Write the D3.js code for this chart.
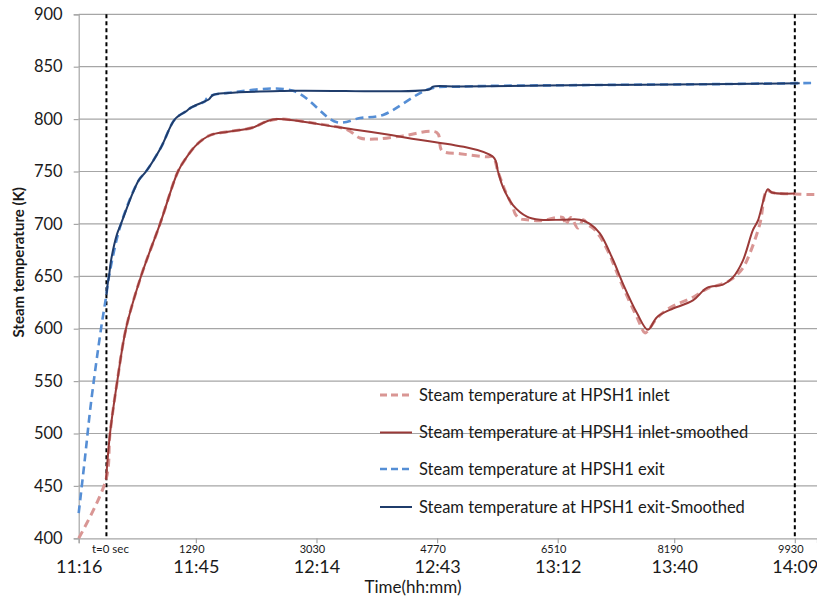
<!DOCTYPE html>
<html>
<head>
<meta charset="utf-8">
<script src="https://cdn.jsdelivr.net/npm/d3@7/dist/d3.min.js"></script>
<style>
    body { margin: 0; background: #fff; }
    svg { display: block; font-family: Lato, "Open Sans", sans-serif; }
</style>
</head>
<body>
<div id="chart"></div>
<script>
"use strict";

// time (s from t=0) and steam temperature (K)

// HPSH1 inlet, raw (dashed)
var inletRaw = [
    [-400, 400], [-6, 456], [52, 500], [152, 548], [282, 600], [499, 650], [773, 700],
    [1032, 750], [1150, 763], [1278, 774], [1400, 781], [1509, 785], [1754, 788],
    [2115, 792], [2317, 798], [2505, 800], [3000, 796], [3470, 790], [3658, 782],
    [3903, 781], [4278, 784], [4768, 787], [4840, 770], [5100, 767], [5489, 764],
    [5576, 764], [5648, 750], [5720, 737], [5749, 732], [5821, 722], [5864, 716],
    [5893, 710], [5965, 705], [6066, 704], [6253, 703], [6585, 706], [6620, 699],
    [6700, 706], [6800, 696], [6880, 704], [6950, 699], [7018, 696], [7118, 688],
    [7263, 670], [7306, 663], [7450, 640], [7652, 611], [7768, 596], [7811, 598],
    [7941, 610], [8128, 620], [8460, 630], [8662, 638], [8893, 643], [9037, 648],
    [9181, 658], [9282, 672], [9426, 700], [9527, 732], [9599, 730], [10219, 728]
];

// HPSH1 inlet, smoothed
var inletSmooth = [
    [-6, 456], [52, 500], [152, 548], [282, 600], [499, 650], [773, 700], [1032, 750],
    [1150, 763], [1278, 774], [1400, 781], [1509, 785], [1754, 788], [2115, 792],
    [2317, 798], [2461, 800], [3369, 792], [4264, 783], [5576, 764], [5648, 750],
    [5720, 735], [5864, 718], [6066, 707], [6253, 704], [6585, 704], [6830, 704],
    [6974, 700], [7118, 691], [7306, 666], [7450, 643], [7652, 615], [7811, 599],
    [7941, 611], [8128, 618], [8460, 627], [8662, 639], [8893, 642], [9037, 649],
    [9181, 665], [9325, 694], [9397, 703], [9541, 733], [9599, 730], [9931, 729]
];

// HPSH1 exit, raw (dashed)
var exitRaw = [
    [-400, 424], [-309, 477], [-223, 529], [-78, 600], [-6, 630], [37, 650], [210, 700],
    [470, 742], [571, 750], [787, 773], [989, 800], [1162, 808], [1220, 811], [1422, 817],
    [1451, 820], [1538, 823], [1754, 825], [2691, 827], [3326, 797], [3658, 801],
    [3990, 804], [4667, 829], [5100, 831], [7000, 832.5], [9000, 833.5], [10219, 834.5]
];

// HPSH1 exit, smoothed
var exitSmooth = [
    [0, 632], [23, 645], [37, 650], [66, 665], [152, 690], [210, 700], [383, 730],
    [470, 742], [571, 750], [787, 773], [989, 800], [1162, 808], [1220, 811], [1422, 817],
    [1480, 819], [1538, 823], [1754, 825], [2691, 827], [4667, 828.5], [4710, 831],
    [5100, 831], [7000, 832.5], [9000, 833.5], [10000, 834.3]
];

// axis ticks
var yTicks = [400, 450, 500, 550, 600, 650, 700, 750, 800, 850, 900];
var xTicks = [-400, 1290, 3030, 4770, 6510, 8190, 9930];
var clockLabels = ["11:16", "11:45", "12:14", "12:43", "13:12", "13:40", "14:09"];
var secondLabels = ["", "1290", "3030", "4770", "6510", "8190", "9930"];
// vertical markers: start and end of the analysed window
var markers = [0, 9930];

var seriesNames = [
    "Steam temperature at HPSH1 inlet",
    "Steam temperature at HPSH1 inlet-smoothed",
    "Steam temperature at HPSH1 exit",
    "Steam temperature at HPSH1 exit-Smoothed"
];

var W = 817, H = 601;
var plot = { left: 78.7, top: 14.3, right: 817, bottom: 538.3 };

var svg = d3.select("#chart").append("svg")
    .attr("width", W)
    .attr("height", H);

var x = d3.scaleLinear().domain([-400, 10250]).range([plot.left, plot.right]);
var y = d3.scaleLinear().domain([400, 900]).range([plot.bottom, plot.top]);

// horizontal gridlines
svg.append("g")
    .selectAll("line")
    .data(yTicks.slice(1))
    .enter()
    .append("line")
    .attr("x1", plot.left)
    .attr("x2", plot.right)
    .attr("y1", function (d) { return y(d); })
    .attr("y2", function (d) { return y(d); })
    .attr("stroke", "#a6a6a6")
    .attr("stroke-width", 1.2);

// y axis
var yAxis = svg.append("g")
    .attr("transform", "translate(" + plot.left + ",0)")
    .call(d3.axisLeft(y).tickValues(yTicks).tickSize(5).tickPadding(11));
yAxis.select(".domain").attr("stroke", "#a6a6a6").attr("stroke-width", 1.2);
yAxis.selectAll(".tick line").attr("stroke", "#a6a6a6").attr("stroke-width", 1.2);
yAxis.selectAll(".tick text")
    .attr("font-family", "Lato, sans-serif")
    .attr("font-size", 16.5)
    .attr("fill", "#1a1a1a");

// x axis, clock time
var xAxis = svg.append("g")
    .attr("transform", "translate(0," + plot.bottom + ")")
    .call(d3.axisBottom(x).tickValues(xTicks).tickSize(5)
        .tickFormat(function (d, i) { return clockLabels[i]; }));
xAxis.select(".domain").attr("stroke", "#a6a6a6").attr("stroke-width", 1.2);
xAxis.selectAll(".tick line").attr("stroke", "#a6a6a6").attr("stroke-width", 1.2);
xAxis.selectAll(".tick text")
    .attr("y", 22)
    .attr("dy", "0.71em")
    .attr("font-family", "Lato, sans-serif")
    .attr("font-size", 18)
    .attr("fill", "#1a1a1a");

// seconds since t=0 above the clock labels
svg.append("g")
    .selectAll("text")
    .data(xTicks)
    .enter()
    .append("text")
    .attr("x", function (d) { return x(d) - 4; })
    .attr("y", plot.bottom + 15)
    .attr("text-anchor", "middle")
    .attr("font-size", 11)
    .attr("fill", "#1a1a1a")
    .text(function (d, i) { return secondLabels[i]; });

svg.append("text")
    .attr("x", x(0) + 4)
    .attr("y", plot.bottom + 15)
    .attr("text-anchor", "middle")
    .attr("font-size", 11.5)
    .attr("fill", "#1a1a1a")
    .text("t=0 sec");

// vertical dashed markers
svg.append("g")
    .selectAll("line")
    .data(markers)
    .enter()
    .append("line")
    .attr("x1", function (d) { return x(d); })
    .attr("x2", function (d) { return x(d); })
    .attr("y1", plot.top)
    .attr("y2", plot.bottom)
    .attr("stroke", "#000")
    .attr("stroke-width", 2)
    .attr("stroke-dasharray", "4,3");

// the four temperature lines
var line = d3.line()
    .x(function (d) { return x(d[0]); })
    .y(function (d) { return y(d[1]); })
    .curve(d3.curveCatmullRom.alpha(0.5));

var styles = [
    { data: inletRaw, color: "#d99694", width: 3, dash: "8,5" },
    { data: inletSmooth, color: "#9b3a38", width: 2, dash: null },
    { data: exitRaw, color: "#558ed5", width: 2.6, dash: "8,5" },
    { data: exitSmooth, color: "#1f3c6b", width: 2, dash: null }
];

styles.forEach(function (s) {
    svg.append("path")
        .datum(s.data)
        .attr("d", line)
        .attr("fill", "none")
        .attr("stroke", s.color)
        .attr("stroke-width", s.width)
        .attr("stroke-dasharray", s.dash);
});

// legend, no box
var legend = svg.append("g").attr("transform", "translate(380,395)");
var rows = legend.selectAll("g")
    .data(styles)
    .enter()
    .append("g")
    .attr("transform", function (d, i) { return "translate(0," + [0, 37.5, 74, 112][i] + ")"; });

rows.append("line")
    .attr("x1", 0)
    .attr("x2", 32)
    .attr("stroke", function (d) { return d.color; })
    .attr("stroke-width", function (d) { return d.width; })
    .attr("stroke-dasharray", function (d) { return d.dash ? "7,4" : null; });

rows.append("text")
    .attr("x", 39)
    .attr("dy", "0.35em")
    .attr("font-size", 16.5)
    .attr("fill", "#1a1a1a")
    .text(function (d, i) { return seriesNames[i]; });

// axis titles
svg.append("text")
    .attr("transform", "translate(24," + ((plot.top + plot.bottom) / 2 - 14) + ") rotate(-90)")
    .attr("text-anchor", "middle")
    .attr("font-size", 15)
    .attr("font-weight", "bold")
    .attr("fill", "#1a1a1a")
    .text("Steam temperature (K)");

svg.append("text")
    .attr("x", 413)
    .attr("y", 593)
    .attr("text-anchor", "middle")
    .attr("font-size", 17)
    .attr("fill", "#1a1a1a")
    .text("Time(hh:mm)");
</script>
</body>
</html>
